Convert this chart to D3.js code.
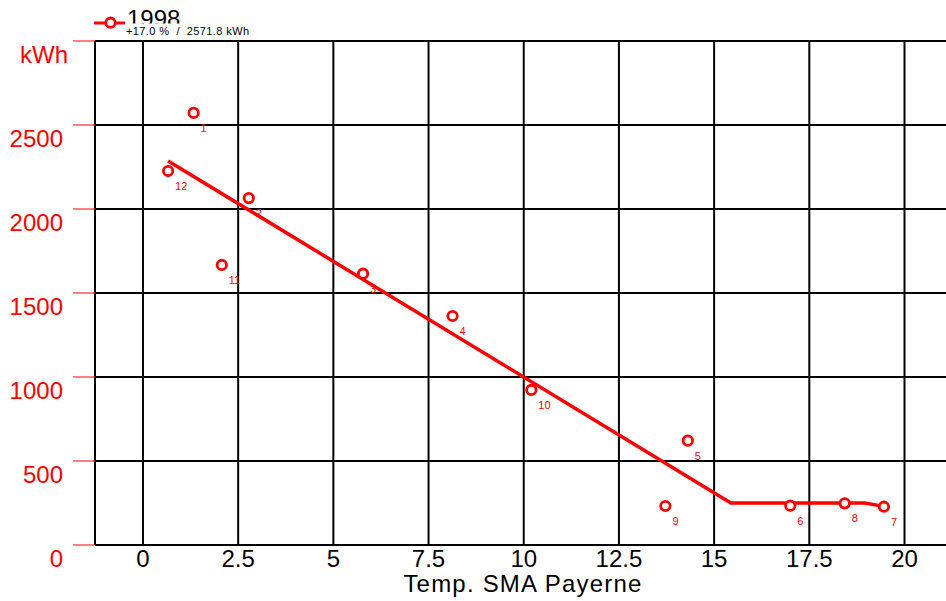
<!DOCTYPE html>
<html>
<head>
<meta charset="utf-8">
<script src="https://cdn.jsdelivr.net/npm/d3@7"></script>
<style>
  body { margin: 0; background: #fff; }
  svg { display: block; font-family: "Liberation Sans", Arial, sans-serif; }
</style>
</head>
<body>
<div id="chart"></div>
<script>
"use strict";
// monthly points: month number, mean temperature, consumption
const months = ["1", "2", "3", "4", "5", "6", "7", "8", "9", "10", "11", "12"];
const temps = [1.33, 2.78, 5.78, 8.13, 14.31, 17.0, 19.46, 18.43, 13.72, 10.2, 2.07, 0.66];
const kwh = [2572, 2065, 1615, 1363, 621, 234, 228, 248, 232, 923, 1667, 2226];
// fitted signature line
const fitTemps = [0.66, 15.44, 18.95, 19.46];
const fitKwh = [2286, 250, 250, 230];
const xTicks = [0, 2.5, 5, 7.5, 10, 12.5, 15, 17.5, 20];
const xTickLabels = ["0", "2.5", "5", "7.5", "10", "12.5", "15", "17.5", "20"];
const yTicks = [0, 500, 1000, 1500, 2000, 2500];
const yTickLabels = ["0", "500", "1000", "1500", "2000", "2500"];
const seriesName = "1998";
const seriesNote = "+17.0 %  /  2571.8 kWh";

const width = 946, height = 601;
const plot = { left: 95, right: 946, top: 41, bottom: 545 };
const red = "#ff0000";

const svg = d3.select("#chart")
    .append("svg")
    .attr("width", width)
    .attr("height", height);

const x = d3.scaleLinear()
    .domain([-1.26, 21.09])
    .range([plot.left, plot.right]);
const y = d3.scaleLinear()
    .domain([0, 3000])
    .range([plot.bottom, plot.top]);

// grid
const grid = svg.append("g")
    .attr("stroke", "#000")
    .attr("stroke-width", 2);
grid.selectAll(".vline")
    .data(xTicks)
    .enter()
    .append("line")
    .attr("x1", d => x(d)).attr("x2", d => x(d))
    .attr("y1", plot.top).attr("y2", plot.bottom);
grid.selectAll(".hline")
    .data(yTicks.concat([3000]))
    .enter()
    .append("line")
    .attr("x1", plot.left).attr("x2", plot.right)
    .attr("y1", d => y(d)).attr("y2", d => y(d));
grid.append("line")
    .attr("x1", plot.left).attr("x2", plot.left)
    .attr("y1", plot.top).attr("y2", plot.bottom);

// y axis: red ticks + labels
svg.append("g")
    .selectAll("line")
    .data(yTicks.concat([3000]))
    .enter()
    .append("line")
    .attr("x1", 73).attr("x2", plot.left)
    .attr("y1", d => y(d)).attr("y2", d => y(d))
    .attr("stroke", red)
    .attr("stroke-width", 1);
svg.append("g")
    .selectAll("text")
    .data(yTicks)
    .enter()
    .append("text")
    .attr("x", 63)
    .attr("y", d => y(d) + 22)
    .attr("text-anchor", "end")
    .attr("font-size", 24)
    .attr("fill", red)
    .text((d, i) => yTickLabels[i]);
svg.append("text")
    .attr("x", 20)
    .attr("y", y(3000) + 22)
    .attr("font-size", 24)
    .attr("fill", red)
    .text("kWh");

// x axis labels
svg.append("g")
    .selectAll("text")
    .data(xTicks)
    .enter()
    .append("text")
    .attr("x", d => x(d))
    .attr("y", plot.bottom + 22)
    .attr("text-anchor", "middle")
    .attr("font-size", 24)
    .attr("fill", "#000")
    .text((d, i) => xTickLabels[i]);
svg.append("text")
    .attr("x", 523)
    .attr("y", 592)
    .attr("text-anchor", "middle")
    .attr("font-size", 24)
    .attr("letter-spacing", 1.2)
    .attr("fill", "#000")
    .text("Temp. SMA Payerne");

const points = months.map((m, i) => ({ m: m, t: temps[i], v: kwh[i] }));

// month labels (under the line)
svg.append("g")
    .selectAll("text")
    .data(points)
    .enter()
    .append("text")
    .attr("x", d => x(d.t) + 7)
    .attr("y", d => y(d.v) + 19)
    .attr("font-size", 11)
    .attr("fill", red)
    .text(d => d.m);

const line = d3.line()
    .x(d => x(d[0]))
    .y(d => y(d[1]));
svg.append("path")
    .datum(fitTemps.map((t, i) => [t, fitKwh[i]]))
    .attr("d", line)
    .attr("fill", "none")
    .attr("stroke", red)
    .attr("stroke-width", 3.5)
    .attr("stroke-linejoin", "round");

svg.append("g")
    .selectAll("circle")
    .data(points)
    .enter()
    .append("circle")
    .attr("cx", d => x(d.t))
    .attr("cy", d => y(d.v))
    .attr("r", 4.7)
    .attr("fill", "#fff")
    .attr("stroke", red)
    .attr("stroke-width", 2.8);

// legend
const legend = svg.append("g");
legend.append("line")
    .attr("x1", 94).attr("x2", 125)
    .attr("y1", 23).attr("y2", 23)
    .attr("stroke", red)
    .attr("stroke-width", 3);
legend.append("circle")
    .attr("cx", 110.5).attr("cy", 22.7)
    .attr("r", 4.7)
    .attr("fill", "#fff")
    .attr("stroke", red)
    .attr("stroke-width", 2.8);
legend.append("text")
    .attr("x", 127)
    .attr("y", 27)
    .attr("font-size", 24)
    .attr("fill", "#000")
    .text(seriesName);
legend.append("rect")
    .attr("x", 126).attr("y", 23.5)
    .attr("width", 125).attr("height", 14)
    .attr("fill", "#fff");
legend.append("text")
    .attr("x", 126)
    .attr("y", 35)
    .attr("font-size", 11)
    .attr("letter-spacing", 0.4)
    .attr("fill", "#000")
    .style("white-space", "pre")
    .text(seriesNote);
</script>
</body>
</html>
